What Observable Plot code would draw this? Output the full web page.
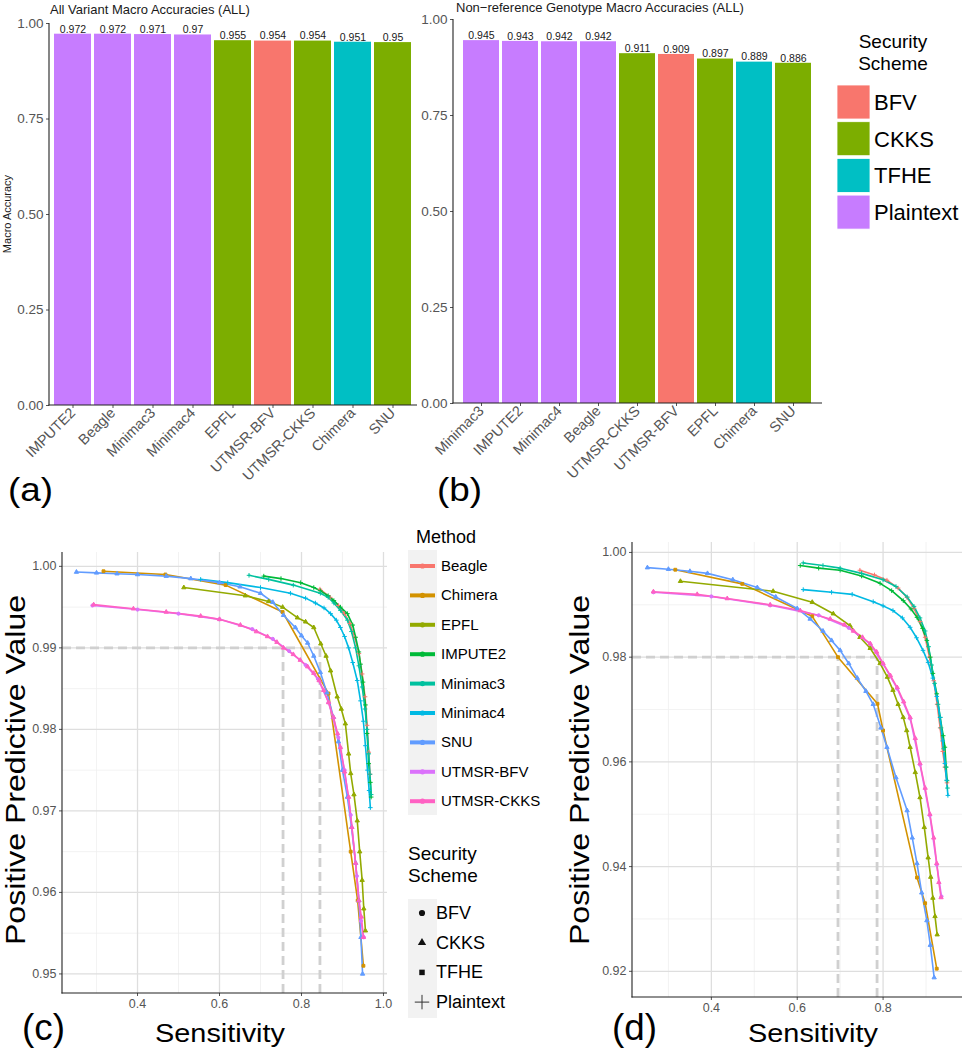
<!DOCTYPE html>
<html><head><meta charset="utf-8">
<script src="https://cdn.jsdelivr.net/npm/d3@7"></script>
<script src="https://cdn.jsdelivr.net/npm/@observablehq/plot@0.6"></script>
<style>
body{margin:0;background:#fff;}
#root{position:relative;width:964px;height:1050px;overflow:hidden;font-family:"Liberation Sans",Arial,sans-serif;background:#fff;}
.panel{position:absolute;}
.panel svg{overflow:visible;}
#overlay{position:absolute;left:0;top:0;pointer-events:none;}
</style></head><body><div id="root"></div>
<script>
// ---------- categories ----------
const schemes = ["BFV", "CKKS", "TFHE", "Plaintext"];
const schemeColors = ["#F8766D", "#7CAE00", "#00BFC4", "#C77CFF"];
const methods = ["Beagle", "Chimera", "EPFL", "IMPUTE2", "Minimac3", "Minimac4", "SNU", "UTMSR-BFV", "UTMSR-CKKS"];
const methodColors = ["#F8766D", "#D39200", "#93AA00", "#00BA38", "#00C19F", "#00B9E3", "#619CFF", "#DB72FB", "#FF61C3"];
const methodSchemes = ["Plaintext", "TFHE", "CKKS", "Plaintext", "Plaintext", "Plaintext", "CKKS", "BFV", "CKKS"];

// ---------- bar panels ----------
const barTitleA = "All Variant Macro Accuracies (ALL)";
const barMethodsA = ["IMPUTE2", "Beagle", "Minimac3", "Minimac4", "EPFL", "UTMSR-BFV", "UTMSR-CKKS", "Chimera", "SNU"];
const barValuesA = [0.972, 0.972, 0.971, 0.97, 0.955, 0.954, 0.954, 0.951, 0.95];
const barLabelsA = ["0.972", "0.972", "0.971", "0.97", "0.955", "0.954", "0.954", "0.951", "0.95"];
const barTitleB = "Non\u2212reference Genotype Macro Accuracies (ALL)";
const barMethodsB = ["Minimac3", "IMPUTE2", "Minimac4", "Beagle", "UTMSR-CKKS", "UTMSR-BFV", "EPFL", "Chimera", "SNU"];
const barValuesB = [0.945, 0.943, 0.942, 0.942, 0.911, 0.909, 0.897, 0.889, 0.886];
const barLabelsB = ["0.945", "0.943", "0.942", "0.942", "0.911", "0.909", "0.897", "0.889", "0.886"];
const barYTicks = [0, 0.25, 0.5, 0.75, 1];

// ---------- curve panel (c): [sensitivity, PPV] ----------
const cBeagle = [[0.845,0.9972],[0.87,0.9962],[0.89,0.9952],[0.905,0.9942],[0.918,0.993],[0.93,0.9913],[0.94,0.9893],[0.948,0.9868],[0.955,0.984],[0.96,0.9805],[0.964,0.9772],[0.967,0.9745]];
const cChimera = [[0.317,0.9994],[0.468,0.999],[0.615,0.9977],[0.754,0.9944],[0.866,0.9844],[0.92,0.965],[0.937,0.959],[0.951,0.951]];
const cEPFL = [[0.513,0.9974],[0.663,0.9964],[0.72,0.9957],[0.754,0.995],[0.79,0.9937],[0.81,0.9932],[0.83,0.9925],[0.847,0.9905],[0.86,0.989],[0.871,0.9872],[0.887,0.984],[0.897,0.9825],[0.907,0.9807],[0.915,0.977],[0.92,0.9746],[0.928,0.972],[0.936,0.9688],[0.942,0.965],[0.948,0.9615],[0.952,0.958],[0.956,0.9553]];
const cIMPUTE2 = [[0.708,0.9988],[0.75,0.9985],[0.798,0.998],[0.83,0.9974],[0.846,0.997],[0.865,0.9964],[0.879,0.9958],[0.895,0.995],[0.912,0.9942],[0.925,0.9928],[0.932,0.9913],[0.94,0.9895],[0.944,0.988],[0.95,0.9858],[0.956,0.983],[0.96,0.9795],[0.964,0.9758],[0.968,0.9735],[0.97,0.9717]];
const cMinimac3 = [[0.672,0.9989],[0.72,0.9984],[0.78,0.9977],[0.846,0.9967],[0.865,0.9962],[0.879,0.9955],[0.895,0.9946],[0.912,0.9934],[0.922,0.992],[0.932,0.99],[0.94,0.9878],[0.948,0.9852],[0.955,0.9825],[0.96,0.98],[0.964,0.977],[0.967,0.9745],[0.97,0.972]];
const cMinimac4 = [[0.554,0.9984],[0.62,0.998],[0.70,0.9974],[0.773,0.9967],[0.81,0.9961],[0.834,0.9955],[0.855,0.9949],[0.871,0.9942],[0.885,0.9934],[0.895,0.9925],[0.905,0.9914],[0.915,0.99],[0.925,0.9882],[0.936,0.986],[0.944,0.9835],[0.951,0.981],[0.956,0.978],[0.961,0.975],[0.965,0.9725],[0.968,0.9704]];
const cSNU = [[0.251,0.9993],[0.30,0.9992],[0.35,0.9991],[0.40,0.999],[0.47,0.9988],[0.53,0.9985],[0.60,0.998],[0.65,0.9975],[0.70,0.9967],[0.73,0.9956],[0.756,0.994],[0.785,0.9925],[0.80,0.9915],[0.815,0.9906],[0.83,0.989],[0.846,0.987],[0.862,0.9845],[0.878,0.9815],[0.89,0.9785],[0.90,0.975],[0.912,0.9717],[0.922,0.968],[0.932,0.9636],[0.94,0.959],[0.945,0.9545],[0.949,0.95]];
const cUTMSRBFV = [[0.29,0.9952],[0.40,0.9947],[0.50,0.9942],[0.60,0.9935],[0.68,0.9923],[0.73,0.9911],[0.77,0.9896],[0.81,0.9879],[0.84,0.9862],[0.866,0.9833],[0.89,0.979],[0.905,0.975],[0.92,0.9695],[0.935,0.962],[0.945,0.9565],[0.952,0.9545]];
const cUTMSRCKKS = [[0.293,0.9953],[0.39,0.9948],[0.47,0.9944],[0.554,0.9939],[0.60,0.9935],[0.651,0.9928],[0.69,0.992],[0.717,0.9914],[0.74,0.9907],[0.756,0.99],[0.78,0.9892],[0.797,0.9885],[0.815,0.9877],[0.83,0.9869],[0.843,0.986],[0.854,0.9848],[0.866,0.9833],[0.878,0.9815],[0.888,0.9795],[0.895,0.9778],[0.905,0.9748],[0.915,0.9717],[0.923,0.968],[0.932,0.9636],[0.94,0.959],[0.946,0.957],[0.951,0.9545]];

// ---------- curve panel (d) ----------
const dBeagle = [[0.746,0.9966],[0.78,0.9957],[0.809,0.9947],[0.835,0.9932],[0.856,0.9914],[0.872,0.9893],[0.886,0.9868],[0.898,0.9838],[0.908,0.98],[0.918,0.9755],[0.926,0.971],[0.933,0.9665],[0.939,0.962],[0.944,0.959],[0.949,0.956]];
const dChimera = [[0.316,0.9967],[0.472,0.994],[0.635,0.9878],[0.695,0.98],[0.787,0.9711],[0.80,0.966],[0.879,0.9379],[0.898,0.933],[0.925,0.9205]];
const dEPFL = [[0.328,0.9945],[0.544,0.9926],[0.635,0.9905],[0.684,0.9883],[0.723,0.986],[0.746,0.9838],[0.77,0.9817],[0.793,0.9788],[0.81,0.9762],[0.823,0.9737],[0.835,0.971],[0.847,0.9685],[0.855,0.966],[0.863,0.9628],[0.875,0.958],[0.886,0.9532],[0.896,0.9475],[0.905,0.9417],[0.911,0.938],[0.916,0.934],[0.921,0.9305],[0.926,0.927]];
const dIMPUTE2 = [[0.607,0.9975],[0.65,0.997],[0.70,0.9966],[0.75,0.9955],[0.793,0.9941],[0.82,0.9927],[0.847,0.9908],[0.865,0.9892],[0.879,0.9876],[0.892,0.9855],[0.902,0.9832],[0.91,0.98],[0.916,0.9769],[0.925,0.973],[0.933,0.9685],[0.94,0.965],[0.944,0.9628],[0.947,0.959],[0.949,0.9564]];
const dMinimac3 = [[0.614,0.998],[0.66,0.9975],[0.70,0.997],[0.75,0.996],[0.80,0.9948],[0.83,0.9935],[0.856,0.9915],[0.872,0.9897],[0.886,0.9875],[0.898,0.985],[0.906,0.982],[0.913,0.9785],[0.92,0.975],[0.928,0.971],[0.935,0.9665],[0.941,0.9625],[0.946,0.959],[0.95,0.955]];
const dMinimac4 = [[0.614,0.9929],[0.68,0.9924],[0.728,0.992],[0.777,0.9906],[0.80,0.9898],[0.823,0.9889],[0.845,0.9875],[0.863,0.9857],[0.878,0.9837],[0.893,0.9813],[0.905,0.979],[0.916,0.976],[0.925,0.9725],[0.933,0.9685],[0.939,0.964],[0.944,0.9597],[0.948,0.9565],[0.951,0.9536]];
const dSNU = [[0.251,0.9971],[0.30,0.9968],[0.35,0.9964],[0.391,0.996],[0.45,0.9948],[0.507,0.9933],[0.55,0.9915],[0.60,0.9893],[0.63,0.9873],[0.66,0.985],[0.68,0.9832],[0.70,0.9813],[0.72,0.9788],[0.74,0.976],[0.76,0.9735],[0.777,0.971],[0.795,0.9665],[0.809,0.9628],[0.83,0.957],[0.856,0.9507],[0.868,0.9455],[0.879,0.9406],[0.89,0.935],[0.902,0.9297],[0.91,0.925],[0.919,0.9188]];
const dUTMSRBFV = [[0.265,0.9924],[0.40,0.9916],[0.537,0.9899],[0.65,0.988],[0.72,0.9856],[0.77,0.9825],[0.80,0.9787],[0.833,0.974],[0.863,0.9683],[0.886,0.9595],[0.909,0.9498],[0.925,0.9404],[0.936,0.9343]];
const dUTMSRCKKS = [[0.265,0.9925],[0.367,0.992],[0.437,0.9912],[0.537,0.99],[0.607,0.9889],[0.677,0.9873],[0.71,0.9862],[0.731,0.985],[0.752,0.9838],[0.77,0.9826],[0.785,0.981],[0.80,0.9788],[0.817,0.9765],[0.833,0.9742],[0.848,0.9715],[0.863,0.9685],[0.875,0.9645],[0.886,0.9597],[0.898,0.955],[0.909,0.95],[0.918,0.9455],[0.925,0.9406],[0.93,0.937],[0.935,0.9341]];

const curvesC = [cBeagle, cChimera, cEPFL, cIMPUTE2, cMinimac3, cMinimac4, cSNU, cUTMSRBFV, cUTMSRCKKS];
const curvesD = [dBeagle, dChimera, dEPFL, dIMPUTE2, dMinimac3, dMinimac4, dSNU, dUTMSRBFV, dUTMSRCKKS];

// axes / reference lines
const xDomainC = [0.217, 1.0098], yDomainC = [0.9476, 1.0017];
const xTicksC = [0.4, 0.6, 0.8, 1.0], xMinorC = [0.3, 0.5, 0.7, 0.9];
const yTicksC = [0.95, 0.96, 0.97, 0.98, 0.99, 1.00], yMinorC = [0.955, 0.965, 0.975, 0.985, 0.995];
const refPPVC = 0.99, refSensC = [0.755, 0.845];
const xDomainD = [0.2163, 0.985], yDomainD = [0.915, 1.0019];
const xTicksD = [0.4, 0.6, 0.8], xMinorD = [0.3, 0.5, 0.7, 0.9];
const yTicksD = [0.92, 0.94, 0.96, 0.98, 1.00], yMinorD = [0.93, 0.95, 0.97, 0.99];
const refPPVD = 0.98, refSensD = [0.695, 0.786];

// ---------- helpers ----------
const NS = "http://www.w3.org/2000/svg";
const root = document.getElementById("root");
function el(tag, attrs) { const e = document.createElementNS(NS, tag); for (const k in attrs) e.setAttribute(k, attrs[k]); return e; }
function axisLines() {
  return (index, scales, values, dims) => {
    const {width, height, marginLeft, marginRight, marginTop, marginBottom} = dims;
    const g = el("g", {stroke: "#222", "stroke-width": 1.1});
    g.append(el("line", {x1: marginLeft, x2: marginLeft, y1: marginTop, y2: height - marginBottom + 0.5}));
    g.append(el("line", {x1: marginLeft - 0.5, x2: width - marginRight, y1: height - marginBottom, y2: height - marginBottom}));
    return g;
  };
}
function place(node, left, top) {
  const d = document.createElement("div"); d.className = "panel"; d.style.left = left + "px"; d.style.top = top + "px";
  d.append(node); root.append(d);
}
const schemeOf = m => methodSchemes[methods.indexOf(m)];

function barChart(names, values, labels, opts) {
  const rows = names.map((m, i) => ({method: m, value: values[i], label: labels[i], scheme: schemeOf(m)}));
  const chart = Plot.plot({
    width: opts.width, height: opts.height,
    marginLeft: opts.ml, marginRight: opts.mr, marginTop: opts.mt, marginBottom: opts.mb,
    style: {fontFamily: "Liberation Sans, Arial, sans-serif", fontSize: "13.5px", color: "#555", background: "transparent"},
    x: {domain: names, paddingInner: 0.07, paddingOuter: opts.po, tickRotate: -45, tickSize: 3, tickPadding: 2, label: null},
    y: {domain: [0, 1], ticks: barYTicks, tickFormat: d3.format(".2f"), tickSize: 3, tickPadding: 3, label: null},
    color: {domain: schemes, range: schemeColors},
    marks: [
      Plot.barY(rows, {x: "method", y: "value", fill: "scheme"}),
      Plot.text(rows, {x: "method", y: "value", text: "label", dy: -5, fontSize: 10.5, fill: "#1a1a1a"}),
      axisLines()
    ]
  });
  // enlarge the rotated category tick labels
  chart.querySelectorAll("text").forEach(t => { if (names.includes(t.textContent)) t.style.fontSize = "14.5px"; });
  return chart;
}

function curveChart(curves, o) {
  const rows = [];
  curves.forEach((c, i) => c.forEach(([s, p]) => rows.push({method: methods[i], scheme: methodSchemes[i], s, p})));
  const refH = [{y: o.refPPV, x1: o.xDomain[0], x2: o.refSens[1]}];
  const refV = o.refSens.map(x => ({x, y1: o.yDomain[0], y2: o.refPPV}));
  return Plot.plot({
    width: o.width, height: o.height,
    marginLeft: o.ml, marginRight: o.mr, marginTop: o.mt, marginBottom: o.mb,
    style: {fontFamily: "Liberation Sans, Arial, sans-serif", fontSize: "12.5px", color: "#555", background: "transparent"},
    x: {domain: o.xDomain, ticks: o.xTicks, tickFormat: d3.format(".1f"), tickSize: 3, tickPadding: 3, label: null},
    y: {domain: o.yDomain, ticks: o.yTicks, tickFormat: d3.format(".2f"), tickSize: 3, tickPadding: 3, label: null},
    color: {domain: methods, range: methodColors},
    symbol: {domain: schemes, range: [d3.symbolCircle, d3.symbolTriangle, d3.symbolSquare, d3.symbolPlus]},
    marks: [
      Plot.ruleX(o.xMinor, {stroke: "#efefef", strokeWidth: 0.8}),
      Plot.ruleY(o.yMinor, {stroke: "#efefef", strokeWidth: 0.8}),
      Plot.ruleX(o.xTicks, {stroke: "#dedede", strokeWidth: 1.3}),
      Plot.ruleY(o.yTicks, {stroke: "#dedede", strokeWidth: 1.3}),
      Plot.ruleY(refH, {y: "y", x1: "x1", x2: "x2", stroke: "#d0d0d0", strokeWidth: 2.8, strokeDasharray: "9,5"}),
      Plot.ruleX(refV, {x: "x", y1: "y1", y2: "y2", stroke: "#d0d0d0", strokeWidth: 2.8, strokeDasharray: "9,5"}),
      Plot.line(rows, {x: "s", y: "p", z: "method", stroke: "method", strokeWidth: 1.6}),
      Plot.dot(rows, {x: "s", y: "p", symbol: "scheme", stroke: "method", fill: "method", r: 1.6, strokeWidth: 1}),
      axisLines()
    ]
  });
}

// ---------- build panels ----------
place(barChart(barMethodsA, barValuesA, barLabelsA, {width: 420, height: 470, ml: 49, mr: 3, mt: 23, mb: 65, po: 0.12}), 0, 0);
place(barChart(barMethodsB, barValuesB, barLabelsB, {width: 420, height: 470, ml: 49, mr: 2, mt: 19, mb: 67, po: 0.15}), 404, 0);
place(curveChart(curvesC, {width: 400, height: 520, ml: 62, mr: 13, mt: 22, mb: 57,
  xDomain: xDomainC, yDomain: yDomainC, xTicks: xTicksC, xMinor: xMinorC, yTicks: yTicksC, yMinor: yMinorC,
  refPPV: refPPVC, refSens: refSensC}), 0, 530);
place(curveChart(curvesD, {width: 424, height: 520, ml: 92, mr: 2, mt: 12, mb: 53,
  xDomain: xDomainD, yDomain: yDomainD, xTicks: xTicksD, xMinor: xMinorD, yTicks: yTicksD, yMinor: yMinorD,
  refPPV: refPPVD, refSens: refSensD}), 540, 530);

// ---------- overlay: titles, panel letters, legends ----------
const ov = el("svg", {id: "overlay", width: 964, height: 1050, "font-family": "Liberation Sans, Arial, sans-serif"});
root.append(ov);
function txt(s, x, y, o = {}) {
  const t = el("text", {transform: `translate(${x},${y})` + (o.rot ? ` rotate(${o.rot})` : ""), "font-size": o.size || 12,
    "text-anchor": o.anchor || "start", fill: o.fill || "#000"});
  if (o.len) { t.setAttribute("textLength", o.len); t.setAttribute("lengthAdjust", "spacingAndGlyphs"); }
  t.textContent = s; ov.append(t); return t;
}
txt(barTitleA, 50, 14, {size: 13, fill: "#1a1a1a"});
txt(barTitleB, 456, 12, {size: 13, fill: "#1a1a1a"});
txt("Macro Accuracy", 11, 214, {size: 11, rot: -90, anchor: "middle", fill: "#1a1a1a"});
txt("(a)", 8, 501, {size: 34, len: 45});
txt("(b)", 437, 501, {size: 34, len: 45});
txt("(c)", 22, 1040, {size: 37, len: 43});
txt("(d)", 612, 1040, {size: 37, len: 45});
txt("Sensitivity", 220, 1042, {size: 26, anchor: "middle", len: 130});
txt("Sensitivity", 813, 1042, {size: 26, anchor: "middle", len: 130});
txt("Positive Predictive Value", 25, 770, {size: 28, rot: -90, anchor: "middle", len: 350});
txt("Positive Predictive Value", 589, 770, {size: 28, rot: -90, anchor: "middle", len: 350});

// top-right fill legend
txt("Security", 893, 48, {size: 19, anchor: "middle"});
txt("Scheme", 893, 70, {size: 19, anchor: "middle"});
schemes.forEach((s, i) => {
  const y = 85 + i * 36.7;
  ov.append(el("rect", {x: 837, y, width: 33, height: 34, fill: schemeColors[i], stroke: "#fff", "stroke-width": 0.8}));
  txt(s, 874, y + 25, {size: 22});
});

// Method legend
txt("Method", 416, 543, {size: 18});
ov.append(el("rect", {x: 408, y: 550, width: 29, height: 265, fill: "#f2f2f2"}));
methods.forEach((m, i) => {
  const y = 566 + i * 29.4;
  ov.append(el("line", {x1: 410, x2: 435, y1: y, y2: y, stroke: methodColors[i], "stroke-width": 4}));
  ov.append(el("circle", {cx: 422.5, cy: y, r: 2.6, fill: methodColors[i]}));
  txt(m, 441, y + 5, {size: 15});
});

// Security scheme shape legend
txt("Security", 408, 860, {size: 19});
txt("Scheme", 408, 882, {size: 19});
ov.append(el("rect", {x: 408, y: 899, width: 29, height: 119, fill: "#f2f2f2"}));
const symGen = [d3.symbolCircle, d3.symbolTriangle, d3.symbolSquare, d3.symbolPlus];
schemes.forEach((s, i) => {
  const y = 913 + i * 29.7;
  const path = d3.symbol(symGen[i], i === 3 ? 70 : 30)();
  ov.append(el("path", {d: path, transform: `translate(422,${y})`, fill: i === 3 ? "none" : "#111", stroke: i === 3 ? "#333" : "none", "stroke-width": 1}));
  txt(s, 436, y + 6, {size: 18});
});
</script></body></html>
